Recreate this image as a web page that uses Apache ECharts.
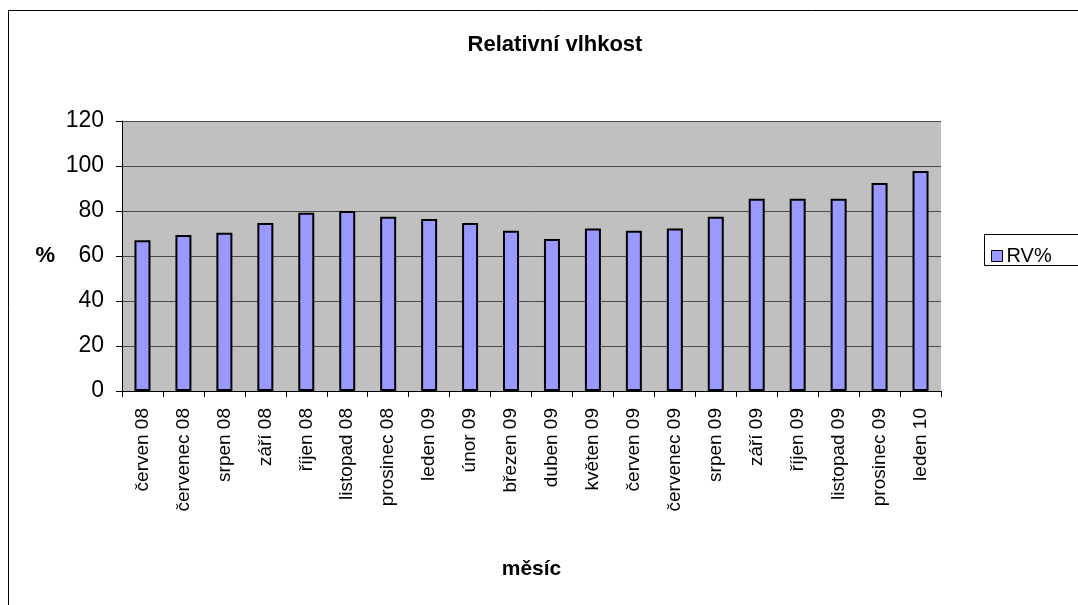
<!DOCTYPE html>
<html>
<head>
<meta charset="utf-8">
<style>
  html, body { margin: 0; padding: 0; background: #fff; }
  #chart { width: 1078px; height: 605px; }
</style>
<script src="https://cdn.jsdelivr.net/npm/echarts@6/dist/echarts.min.js"></script>
</head>
<body>
<div id="chart"></div>
<script>
// Months of the measurement period
const months = [
  'červen 08', 'červenec 08', 'srpen 08', 'září 08', 'říjen 08', 'listopad 08',
  'prosinec 08', 'leden 09', 'únor 09', 'březen 09', 'duben 09', 'květen 09',
  'červen 09', 'červenec 09', 'srpen 09', 'září 09', 'říjen 09', 'listopad 09',
  'prosinec 09', 'leden 10'
];
// Relative humidity per month (%)
const rvValues = [
  67, 69.3, 70.3, 74.7, 79.2, 80, 77.4, 76.5, 74.7, 71.2,
  67.6, 72.2, 71.2, 72.2, 77.4, 85.4, 85.4, 85.4, 92.5, 97.8
];
const seriesName = 'RV%';
const yTicks = { min: 0, max: 120, interval: 20 };

const FONT = '"Liberation Sans", Arial, sans-serif';
const chart = echarts.init(document.getElementById('chart'), null, { renderer: 'canvas' });

chart.setOption({
  backgroundColor: '#ffffff',
  animation: false,
  title: {
    text: 'Relativní vlhkost',
    left: 550,
    top: 29,
    textAlign: 'center',
    textStyle: { fontFamily: FONT, fontSize: 22, fontWeight: 'bold', color: '#000' }
  },
  legend: {
    data: [seriesName],
    left: 986,
    top: 241,
    itemWidth: 11,
    itemHeight: 11,
    icon: 'rect',
    textStyle: { fontFamily: FONT, fontSize: 20, color: '#000', padding: [0, 0, 0, -1] },
    itemStyle: { borderColor: '#000', borderWidth: 1 }
  },
  grid: { left: 122, right: 137, top: 121, bottom: 214, containLabel: false,
          show: true, backgroundColor: '#C0C0C0', borderWidth: 0 },
  xAxis: {
    type: 'category',
    data: months,
    name: 'měsíc',
    nameLocation: 'middle',
    nameGap: 168,
    nameTextStyle: { fontFamily: FONT, fontSize: 21, fontWeight: 'bold', color: '#000' },
    axisLine: { show: true, lineStyle: { color: '#000', width: 1 } },
    axisTick: { show: true, alignWithLabel: false, length: 6, lineStyle: { color: '#000' } },
    axisLabel: { rotate: 90, margin: 17, fontFamily: FONT, fontSize: 19, color: '#000', interval: 0 },
    splitLine: { show: false }
  },
  yAxis: {
    type: 'value',
    min: yTicks.min,
    max: yTicks.max,
    interval: yTicks.interval,
    name: '%',
    nameLocation: 'middle',
    nameRotate: 0,
    nameGap: 67,
    nameTextStyle: { fontFamily: FONT, fontSize: 22, fontWeight: 'bold', color: '#000' },
    axisLine: { show: true, lineStyle: { color: '#000', width: 1 } },
    axisTick: { show: true, inside: false, length: 6, lineStyle: { color: '#000' } },
    axisLabel: { margin: 18, fontFamily: FONT, fontSize: 23, color: '#000' },
    splitLine: { show: true, lineStyle: { color: '#4a4a4a', width: 1 } }
  },
  series: [{
    name: seriesName,
    type: 'bar',
    data: rvValues,
    barWidth: 16,
    itemStyle: { color: '#9999FF', borderColor: '#000', borderWidth: 2 }
  }],
  graphic: [
    // outer chart frame
    { type: 'rect', silent: true, z: 100,
      shape: { x: 8.5, y: 10.5, width: 1100, height: 620 },
      style: { fill: 'none', stroke: '#000', lineWidth: 1 } },
    // legend frame
    { type: 'rect', silent: true, z: 100,
      shape: { x: 984.5, y: 234.5, width: 120, height: 31 },
      style: { fill: 'none', stroke: '#000', lineWidth: 1 } }
  ]
});
</script>
</body>
</html>
